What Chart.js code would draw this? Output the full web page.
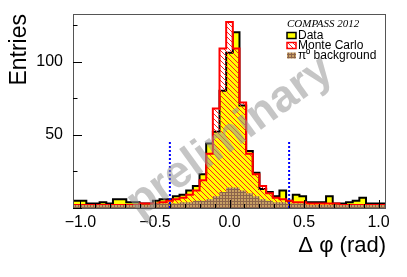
<!DOCTYPE html>
<html>
<head>
<meta charset="utf-8">
<script src="https://cdn.jsdelivr.net/npm/chart.js@4"></script>
<style>
  html, body { margin: 0; padding: 0; background: #fff; }
</style>
</head>
<body>
<canvas id="histo" width="407" height="277"></canvas>
<script>
// histogram binning and contents (47 bins)
const binLow = -1.05;
const binHigh = 1.05;
const dataCounts = [5, 5, 3, 3, 4, 3, 6, 6, 4, 4, 3, 3, 5, 6, 6, 8, 9, 12, 15, 23,
  44, 52, 80, 106, 120, 70, 39, 24, 13, 11, 8, 12, 5, 9, 8, 4, 4, 4, 8, 3,
  3, 4, 5, 7, 3, 3, 3];
const mcCounts = [2, 2, 2, 2, 2, 2, 2, 2, 2, 2, 3, 3, 3, 4, 5, 6, 7, 9, 12, 19,
  37, 68, 109, 127, 109, 72, 37, 23, 15, 10, 7, 6, 5, 4, 4, 3, 3, 3, 3, 3,
  2, 2, 2, 2, 2, 2, 2];
const bkgCounts = [2, 2, 2, 2, 2, 2, 2, 2, 2, 2, 2, 2, 3, 3, 3, 3, 4, 4, 5, 5,
  6, 8, 11, 14, 14, 12, 10, 8, 6, 5, 4, 4, 3, 3, 3, 2, 2, 2, 2, 2,
  2, 2, 2, 2, 2, 2, 2];
const cutValues = [-0.4, 0.4];
const cutHeight = 45;
const xMajorTicks = [-1.0, -0.5, 0.0, 0.5, 1.0];
const xMinorTicks = [-0.9, -0.8, -0.7, -0.6, -0.4, -0.3, -0.2, -0.1,
  0.1, 0.2, 0.3, 0.4, 0.6, 0.7, 0.8, 0.9];
const yMajorTicks = [0, 50, 100];
const yMinorTicks = [25, 75, 125];
const yLabelTicks = [50, 100];
const yMax = 132.5;
const legendTitle = "COMPASS 2012";
const legendLabels = ["Data", "Monte Carlo", "π⁰ background"];
const watermark = "preliminary";

const sans = '"Liberation Sans", Arial, sans-serif';

function steps(counts) {
  const w = (binHigh - binLow) / counts.length;
  const pts = counts.map((c, i) => ({ x: binLow + i * w, y: c }));
  pts.push({ x: binHigh, y: counts[counts.length - 1] });
  return pts;
}

function hatchPattern() {
  const c = document.createElement("canvas");
  c.width = 5; c.height = 5;
  const g = c.getContext("2d");
  g.fillStyle = "#ff2020";
  for (let i = 0; i < 5; i++) g.fillRect(i, i, 1, 1);
  return g.createPattern(c, "repeat");
}

function dotPattern() {
  const c = document.createElement("canvas");
  c.width = 3; c.height = 3;
  const g = c.getContext("2d");
  g.fillStyle = "#8c644b";
  g.fillRect(0, 0, 3, 3);
  g.fillStyle = "#c8a064";
  g.fillRect(1, 1, 2, 2);
  return g.createPattern(c, "repeat");
}

const hatch = hatchPattern();
const dots = dotPattern();

const fmt = v => v.toFixed(1).replace("-", "\u2212");

const decor = {
  id: "decor",
  afterDatasetsDraw(chart) {
    const ctx = chart.ctx;
    ctx.save();
    ctx.translate(230, 137);
    ctx.rotate(-36 * Math.PI / 180);
    ctx.font = "bold 45px " + sans;
    ctx.fillStyle = "rgba(150,150,150,0.55)";
    ctx.textAlign = "center";
    ctx.textBaseline = "middle";
    ctx.fillText(watermark, 0, 0);
    ctx.restore();
  },
  afterDraw(chart) {
    const ctx = chart.ctx;
    const a = chart.chartArea;
    const xs = chart.scales.x, ys = chart.scales.y;
    ctx.save();
    // frame
    ctx.strokeStyle = "#555";
    ctx.lineWidth = 1;
    ctx.strokeRect(Math.round(a.left) + 0.5, Math.round(a.top) + 0.5,
      Math.round(a.right - a.left) - 1, Math.round(a.bottom - a.top));
    // ticks, pointing inwards
    ctx.strokeStyle = "#000";
    ctx.beginPath();
    xMajorTicks.concat(xMinorTicks).forEach(v => {
      const px = Math.round(xs.getPixelForValue(v)) + 0.5;
      const len = xMajorTicks.includes(v) ? 8 : 4;
      ctx.moveTo(px, a.bottom);
      ctx.lineTo(px, a.bottom - len);
    });
    yMajorTicks.concat(yMinorTicks).forEach(v => {
      const py = Math.round(ys.getPixelForValue(v)) + 0.5;
      const len = yMajorTicks.includes(v) ? 9 : 4.5;
      ctx.moveTo(a.left, py);
      ctx.lineTo(a.left + len, py);
    });
    ctx.stroke();

    // legend
    ctx.fillStyle = "#000";
    ctx.textBaseline = "alphabetic";
    ctx.textAlign = "left";
    ctx.font = 'italic 11px "Liberation Serif", "Times New Roman", serif';
    ctx.fillText(legendTitle, 287, 27);
    ctx.font = "12px " + sans;
    const boxes = [
      { fill: "#ffff00", stroke: "#000" },
      { fill: hatch, stroke: "#ff0000" },
      { fill: dots, stroke: null }
    ];
    legendLabels.forEach((t, i) => {
      const base = 38.5 + i * 10;
      const b = boxes[i];
      ctx.fillStyle = b.fill;
      ctx.fillRect(287, base - 6, 9, 6);
      if (b.stroke) {
        ctx.strokeStyle = b.stroke;
        ctx.lineWidth = 1.5;
        ctx.strokeRect(287, base - 6, 9, 6);
      }
      ctx.fillStyle = "#000";
      ctx.fillText(t, 298, base);
    });
    ctx.restore();
  }
};

const cutSets = cutValues.map(v => ({
  label: "cut",
  data: [{ x: v, y: 0 }, { x: v, y: cutHeight }],
  borderColor: "#0000ff",
  borderWidth: 2,
  borderDash: [2, 2],
  fill: false,
  order: -1
}));

new Chart(document.getElementById("histo"), {
  type: "line",
  data: {
    datasets: [
      {
        label: "π⁰ background",
        data: steps(bkgCounts),
        stepped: "before",
        backgroundColor: dots,
        borderColor: "#8c644b",
        borderWidth: 0,
        fill: "origin",
        order: 0
      },
      {
        label: "Monte Carlo",
        data: steps(mcCounts),
        stepped: "before",
        backgroundColor: hatch,
        borderColor: "#ff0000",
        borderWidth: 2,
        fill: "origin",
        order: 1
      },
      {
        label: "Data",
        data: steps(dataCounts),
        stepped: "before",
        backgroundColor: "#ffff00",
        borderColor: "#000000",
        borderWidth: 2,
        fill: "origin",
        order: 2
      }
    ].concat(cutSets)
  },
  options: {
    responsive: false,
    animation: false,
    layout: { padding: { left: 0, top: 14, right: 21, bottom: 0 } },
    elements: { point: { radius: 0 }, line: { tension: 0 } },
    plugins: {
      legend: { display: false },
      tooltip: { enabled: false }
    },
    scales: {
      x: {
        type: "linear",
        min: binLow,
        max: binHigh,
        grid: { display: false, drawTicks: false },
        border: { display: false },
        afterBuildTicks: s => { s.ticks = xMajorTicks.map(v => ({ value: v })); },
        afterFit: s => { s.height = 69; s.paddingLeft = 0; s.paddingRight = 0; },
        ticks: {
          autoSkip: false,
          maxRotation: 0,
          padding: 5,
          color: "#000",
          font: { family: sans, size: 16 },
          callback: v => fmt(v)
        },
        title: {
          display: true,
          text: "Δ φ (rad)",
          align: "end",
          color: "#000",
          font: { family: sans, size: 22 },
          padding: { top: 0, bottom: 18 }
        }
      },
      y: {
        type: "linear",
        min: 0,
        max: yMax,
        grid: { display: false, drawTicks: false },
        border: { display: false },
        afterBuildTicks: s => { s.ticks = yLabelTicks.map(v => ({ value: v })); },
        afterFit: s => { s.width = 73; s.paddingTop = 0; s.paddingBottom = 0; },
        ticks: {
          padding: 10,
          color: "#000",
          font: { family: sans, size: 16 },
          callback: v => String(v)
        },
        title: {
          display: true,
          text: "Entries",
          align: "end",
          color: "#000",
          font: { family: sans, size: 23 },
          padding: { top: 6, bottom: 0 }
        }
      }
    }
  },
  plugins: [decor]
});
</script>
</body>
</html>
